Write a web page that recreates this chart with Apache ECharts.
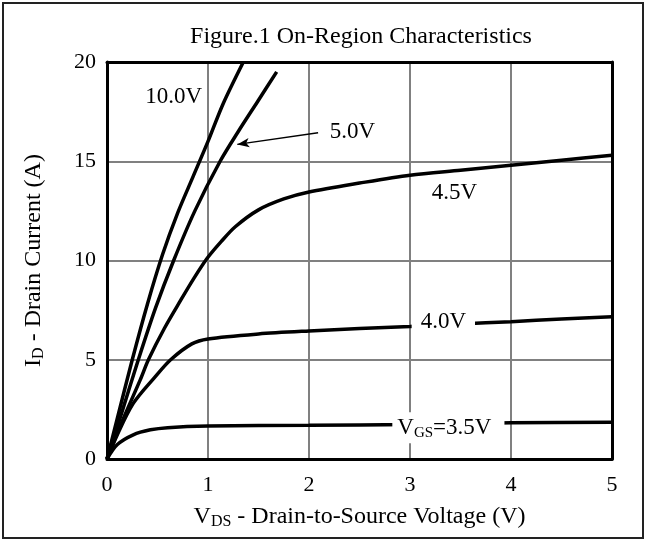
<!DOCTYPE html>
<html>
<head>
<meta charset="utf-8">
<script src="https://cdn.jsdelivr.net/npm/echarts@6/dist/echarts.min.js"></script>
<style>
  html, body { margin: 0; padding: 0; background: #fff; }
  #chart { width: 646px; height: 541px; }
</style>
</head>
<body>
<div id="chart"></div>
<script>
// VDS (V), ID (A) pairs
const vgs100 = [[0, 0], [0.1, 2], [0.25, 5], [0.4, 7.8], [0.55, 10.3], [0.7, 12.4], [0.85, 14.2], [1.0, 16], [1.15, 17.9], [1.35, 20]];
const vgs50 = [[0, 0], [0.15, 2.4], [0.31, 5], [0.48, 7.6], [0.66, 10], [0.87, 12.5], [1.12, 15], [1.3, 16.5], [1.49, 18.0], [1.68, 19.5]];
const vgs45 = [[0, 0], [0.15, 1.9], [0.33, 4], [0.41, 5], [0.57, 6.6], [0.73, 8], [0.86, 9.1], [0.99, 10.1], [1.13, 10.95], [1.27, 11.7], [1.5, 12.55], [1.75, 13.1], [2.0, 13.45], [2.5, 13.9], [3.0, 14.3], [3.5, 14.55], [4.0, 14.8], [4.5, 15.05], [5.0, 15.3]];
const vgs40 = [[0, 0], [0.1, 1.2], [0.26, 2.8], [0.47, 4.1], [0.63, 5.0], [0.84, 5.8], [1.0, 6.05], [1.5, 6.3], [2.0, 6.45], [2.5, 6.57], [3.0, 6.68], [3.5, 6.8], [4.0, 6.92], [4.5, 7.05], [5.0, 7.17]];
const vgs35 = [[0, 0], [0.1, 0.72], [0.26, 1.22], [0.43, 1.47], [0.6, 1.58], [1.0, 1.66], [2.0, 1.7], [3.0, 1.74], [4.0, 1.82], [5.0, 1.85]];

const xTicks = [0, 1, 2, 3, 4, 5];
const yTicks = [0, 5, 10, 15, 20];

// curve labels: text, VDS, ID
const curveLabels = [
  ['10.0V', 0.66, 18.23],
  ['5.0V', 2.43, 16.49],
  ['4.5V', 3.44, 13.42],
  ['4.0V', 3.33, 6.88],
  ['VGS=3.5V', 3.38, 1.57]
];
// arrow from the 5.0V label to its curve
const arrow5V = [[2.09, 16.43], [1.29, 15.85]];

const serif = '"Liberation Serif", "Times New Roman", serif';

const chart = echarts.init(document.getElementById('chart'));

const lineSeries = (name, data) => ({
  name: name,
  type: 'line',
  data: data,
  showSymbol: false,
  smooth: 0.3,
  silent: true,
  z: 3,
  lineStyle: { color: '#000', width: 3.5 }
});

const labelItems = curveLabels.map(([text, x, y]) => {
  const item = { value: [x, y], label: { formatter: '{v|' + text + '}' } };
  if (text === 'VGS=3.5V') {
    item.label.formatter = '{v|V}{s|GS}{v|=3.5V}';
    item.label.backgroundColor = '#fff';
    item.label.padding = [3, 13, 3, 5];
  } else if (text === '4.0V') {
    item.label.backgroundColor = '#fff';
    item.label.padding = [3, 9, 3, 9];
  }
  return item;
});

const option = {
  animation: false,
  backgroundColor: '#fff',
  title: {
    text: 'Figure.1 On-Region Characteristics',
    left: 356,
    textAlign: 'center',
    top: 20,
    textStyle: { fontFamily: serif, fontSize: 24, fontWeight: 'normal', color: '#000' }
  },
  graphic: [{
    type: 'rect',
    shape: { x: 3, y: 3, width: 640, height: 535 },
    style: { fill: null, stroke: '#222', lineWidth: 2 },
    silent: true
  }],
  grid: { left: 107, right: 34, top: 62, bottom: 82 },
  xAxis: [{
    type: 'value', min: 0, max: 5, interval: 1,
    position: 'bottom',
    name: '{v|V}{s|DS}{v| - Drain-to-Source Voltage (V)}',
    nameLocation: 'middle', nameGap: 45,
    nameTextStyle: {
      rich: {
        v: { fontFamily: serif, fontSize: 24, color: '#000' },
        s: { fontFamily: serif, fontSize: 16, color: '#000', padding: [10, 0, 0, 0] }
      }
    },
    axisLine: { show: true, onZero: false, lineStyle: { color: '#000', width: 3 } },
    axisTick: { show: false },
    axisLabel: {
      margin: 15, fontFamily: serif, fontSize: 22, color: '#000',
      formatter: (v) => xTicks.includes(v) ? String(v) : ''
    },
    splitLine: { show: true, showMinLine: false, showMaxLine: false, lineStyle: { color: '#808080', width: 2 } }
  }, {
    type: 'value', min: 0, max: 5, interval: 1,
    position: 'top',
    axisLine: { show: true, onZero: false, lineStyle: { color: '#000', width: 3 } },
    axisTick: { show: false }, axisLabel: { show: false }, splitLine: { show: false }
  }],
  yAxis: [{
    type: 'value', min: 0, max: 20, interval: 5,
    position: 'left',
    name: '{v|I}{s|D}{v| - Drain Current (A)}',
    nameLocation: 'middle', nameGap: 60,
    nameTextStyle: {
      rich: {
        v: { fontFamily: serif, fontSize: 24, color: '#000' },
        s: { fontFamily: serif, fontSize: 16, color: '#000', padding: [10, 0, 0, 0] }
      }
    },
    axisLine: { show: true, onZero: false, lineStyle: { color: '#000', width: 3 } },
    axisTick: { show: false },
    axisLabel: {
      margin: 11, fontFamily: serif, fontSize: 22, color: '#000',
      formatter: (v) => yTicks.includes(v) ? String(v) : ''
    },
    splitLine: { show: true, showMinLine: false, showMaxLine: false, lineStyle: { color: '#808080', width: 2 } }
  }, {
    type: 'value', min: 0, max: 20, interval: 5,
    position: 'right',
    axisLine: { show: true, onZero: false, lineStyle: { color: '#000', width: 3 } },
    axisTick: { show: false }, axisLabel: { show: false }, splitLine: { show: false }
  }],
  series: [
    lineSeries('10.0V', vgs100),
    lineSeries('5.0V', vgs50),
    lineSeries('4.5V', vgs45),
    lineSeries('4.0V', vgs40),
    lineSeries('3.5V', vgs35),
    {
      name: 'labels',
      type: 'scatter',
      silent: true,
      z: 5,
      symbolSize: 1,
      itemStyle: { color: 'rgba(0,0,0,0)', opacity: 1 },
      data: labelItems,
      label: {
        show: true,
        position: 'inside',
        opacity: 1,
        rich: {
          v: { fontFamily: serif, fontSize: 23, color: '#000' },
          s: { fontFamily: serif, fontSize: 15, color: '#000', padding: [10, 0, 0, 0] }
        }
      },
      markLine: {
        silent: true,
        symbol: ['none', 'arrow'],
        symbolSize: [7, 12],
        label: { show: false },
        lineStyle: { color: '#000', width: 1.5, type: 'solid', opacity: 1 },
        itemStyle: { color: '#000' },
        data: [[{ coord: arrow5V[0] }, { coord: arrow5V[1] }]]
      }
    }
  ]
};

chart.setOption(option);
</script>
</body>
</html>
